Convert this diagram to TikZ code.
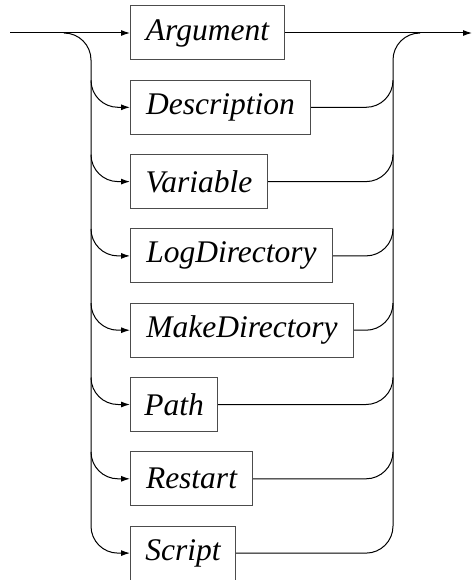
\documentclass[tikz,border=0pt]{standalone}
\usepackage{fontspec}
\setmainfont{Liberation Serif}
\usetikzlibrary{arrows.meta}
\begin{document}
\begin{tikzpicture}[x=1pt,y=-1pt,
  line width=1pt,
  kwbox/.style={draw=black!70, line width=1pt, minimum height=54pt, inner sep=0pt, anchor=west,
    font=\fontsize{31.5}{36}\selectfont\itshape},
  arr/.style={-{Latex[length=9pt,width=6pt]}},
  rc/.style={rounded corners=27pt}]
\useasboundingbox (0,0) rectangle (472,580);
\def\ry#1{(33+74.3*(#1))}
\node[kwbox, minimum width=154pt] (b1) at (130,{\ry{0}}) {Argument};
\node[kwbox, minimum width=180pt] (b2) at (130,{\ry{1}}) {Description};
\node[kwbox, minimum width=137pt] (b3) at (130,{\ry{2}}) {Variable};
\node[kwbox, minimum width=202pt] (b4) at (130,{\ry{3}}) {LogDirectory};
\node[kwbox, minimum width=223pt] (b5) at (130,{\ry{4}}) {MakeDirectory};
\node[kwbox, minimum width=87pt] (b6) at (130,{\ry{5}}) {Path};
\node[kwbox, minimum width=122pt] (b7) at (130,{\ry{6}}) {Restart};
\node[kwbox, minimum width=105pt] (b8) at (130,{\ry{7}}) {Script};
\coordinate (start) at (10,33);
\coordinate (ls) at (64,33);
\coordinate (end) at (472,33);
\coordinate (re) at (420,33);
\draw[arr] (start) -- (b1.west);
\draw[arr] (b1.east) -- (end);
% left trunk
\draw[arr, rc] (ls) -| (91,{\ry{7}}) -- (b8.west);
\foreach \i in {2,...,7} {
  \coordinate (l\i) at (91,{\ry{\i-1}-27});
  \draw[arr, rc] (l\i) |- (b\i.west);
}
% right trunk
\draw[rc] (b8.east) -| (393,33) -- (re);
\foreach \i in {2,...,7} {
  \coordinate (r\i) at (393,{\ry{\i-1}-27});
  \draw[rc] (b\i.east) -| (r\i);
}
\end{tikzpicture}
\end{document}
